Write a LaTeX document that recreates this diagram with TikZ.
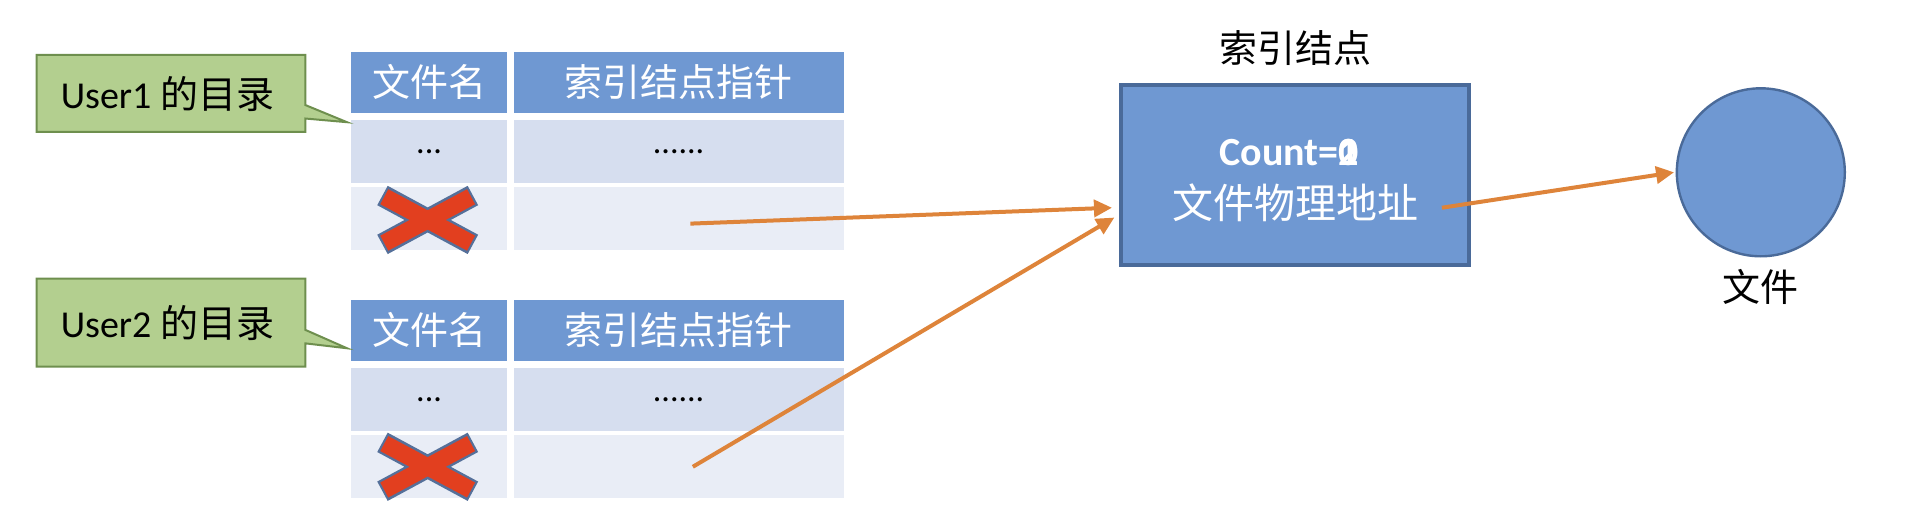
\documentclass[tikz,border=0pt]{standalone}
\usepackage{fontspec}
\setmainfont{Carlito}
\newfontfamily\cjk{Noto Sans CJK SC}
\usetikzlibrary{arrows.meta, positioning, shapes}

\definecolor{hdblue}{HTML}{6F98D2}
\definecolor{rowa}{HTML}{D6DEEF}
\definecolor{rowb}{HTML}{E9EDF6}
\definecolor{boxline}{HTML}{4A6A99}
\definecolor{calfill}{HTML}{B3CF8F}
\definecolor{calline}{HTML}{6E8F4E}
\definecolor{arr}{HTML}{DE843A}
\definecolor{xred}{HTML}{E23F1F}
\definecolor{xline}{HTML}{55709A}

\tikzset{
  cell/.style={inner sep=0pt, anchor=north west, font=\fontsize{17}{19}\selectfont},
  hd/.style={cell, fill=hdblue, text=white, font=\fontsize{19}{21}\selectfont\cjk},
  ptr/.style={draw=arr, line width=2pt, -{Triangle[length=9pt,width=8.5pt]}},
}

\begin{document}
\begin{tikzpicture}[x=0.611pt, y=-0.611pt]
\useasboundingbox (0,0) rectangle (1568,422);

% two directory tables
\foreach \t/\y in {1/42, 2/245} {
  \node[hd, minimum width=78pt, minimum height=30.5pt] (h\t a) at (287,\y) {文件名};
  \node[hd, minimum width=165pt, minimum height=30.5pt] (h\t b) at (420,\y) {索引结点指针};
  \node[cell, fill=rowa, minimum width=78pt, minimum height=31.5pt] (r\t a) at (287,\y+56) {...};
  \node[cell, fill=rowa, minimum width=165pt, minimum height=31.5pt] (r\t b) at (420,\y+56) {......};
  \node[cell, fill=rowb, minimum width=78pt, minimum height=31.5pt] (s\t a) at (287,\y+111) {};
  \node[cell, fill=rowb, minimum width=165pt, minimum height=31.5pt] (s\t b) at (420,\y+111) {};
}

% callouts
\draw[calline, fill=calfill, line width=1pt]
  (30,45) -- (250,45) -- (250,86) -- (284,100) -- (250,97) -- (250,108) -- (30,108) -- cycle;
\node[font=\fontsize{19}{21}\selectfont] (u1) at (137,77) {User1 {\cjk 的目录}};
\draw[calline, fill=calfill, line width=1pt]
  (30,228) -- (250,228) -- (250,270) -- (284,285) -- (250,281) -- (250,300) -- (30,300) -- cycle;
\node[font=\fontsize{19}{21}\selectfont] (u2) at (137,264) {User2 {\cjk 的目录}};

% crosses
\foreach \cy in {180, 382} {
  \begin{scope}[shift={(350,\cy)}]
    \draw[xline, line width=11pt] (-37,-20) -- (37,20) (-37,20) -- (37,-20);
    \draw[xred, line width=8.5pt] (-35.5,-19) -- (35.5,19) (-35.5,19) -- (35.5,-19);
  \end{scope}
}

% inode
\node[draw=boxline, line width=1.8pt, fill=hdblue, minimum width=174pt, minimum height=90pt] (inode) at (1060,143) {};
\node[font=\fontsize{19}{21}\selectfont\cjk, above=5pt of inode] (il) {索引结点};
\node[text=white, font=\fontsize{20}{22}\selectfont\bfseries] (cnt) at (1055,125) {Count=\rlap{1}\rlap{2}0};
\node[text=white, font=\fontsize{20.5}{22}\selectfont\cjk] (addr) at (1060,166) {文件物理地址};

% file
\node[draw=boxline, line width=1.2pt, fill=hdblue, circle, minimum size=84pt] (file) at (1441,141) {};
\node[font=\fontsize{19}{21}\selectfont\cjk] (fl) at (1441,235) {文件};

% pointers
\coordinate (p1) at (565,183);
\coordinate (p2) at (567,382);
\coordinate (q1) at (910,170);
\coordinate (q2) at (912,178);
\coordinate (p3) at (1180,170);
\coordinate (q3) at (1370,141);
\draw[ptr] (p1) -- (q1);
\draw[ptr] (p2) -- (q2);
\draw[ptr] (p3) -- (q3);
\end{tikzpicture}
\end{document}
